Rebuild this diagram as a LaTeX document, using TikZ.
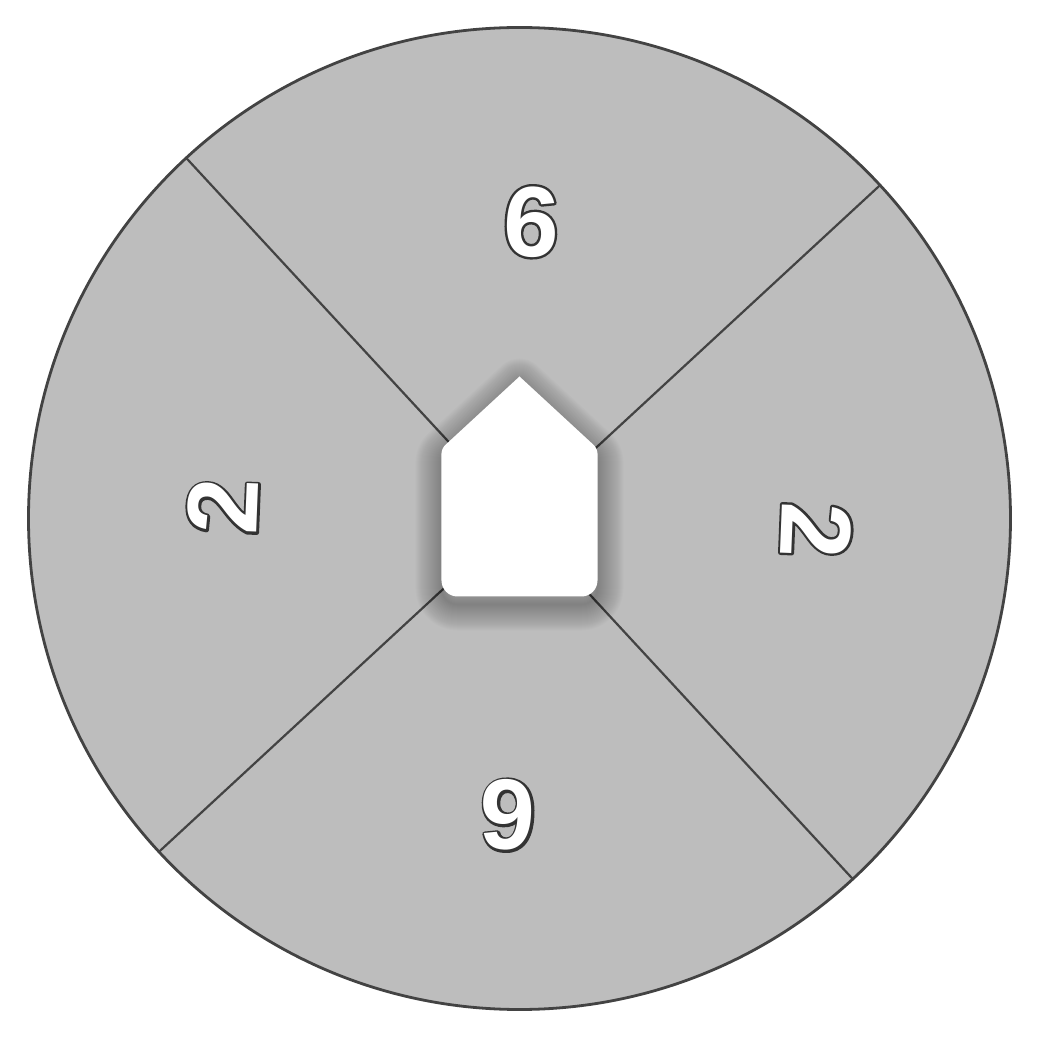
\documentclass[tikz,border=0pt]{standalone}
\usepackage{fontspec}
\setmainfont{Liberation Sans}
\definecolor{wheel}{HTML}{BDBDBD}
\definecolor{rim}{HTML}{434343}
\tikzset{
  rimline/.style={draw=rim,line width=1.4pt},
  divider/.style={draw=rim,line width=1.1pt},
  digit/.style={font=\fontsize{50}{50}\selectfont\bfseries,text=white,inner sep=0pt},
  house outline/.style={insert path={(0,142) [rounded corners=2.5pt] -- (78,70)
    [rounded corners=8pt] -- (78,-78) -- (-78,-78) [rounded corners=2.5pt]
    -- (-78,70) [sharp corners] -- cycle}},
  glow/.style={draw=black,draw opacity=0.012,line join=round,line width=#1}
}
% white glyph over a dark stroked copy of itself
\newcommand{\outlined}[1]{%
  \rlap{\special{pdf:code q 1 Tr 2.4 w 1 j 0.2 0.2 0.2 RG}#1\special{pdf:code Q}}#1}

\begin{document}
\begin{tikzpicture}[x=0.5pt,y=0.5pt]
\useasboundingbox (-519.5,-525.5) rectangle (520.5,518.5);
\filldraw[fill=wheel,rimline] (0,0) circle (491);
\foreach \ang in {42.75,132.75}
  \draw[divider] (\ang:491) -- (\ang+180:491);
\foreach \ang/\num/\name in {87.75/6/north,177.75/2/west,267.75/6/south,-2.25/2/east}
  \node[digit,rotate=\ang-90] (\name) at (\ang:297) {\outlined{\num}};
% soft shadow under the house
\foreach \w in {1,...,26}
  \path[glow=\w pt,yshift=-4pt] [house outline];
\path[fill=white] [house outline];
\end{tikzpicture}
\end{document}
